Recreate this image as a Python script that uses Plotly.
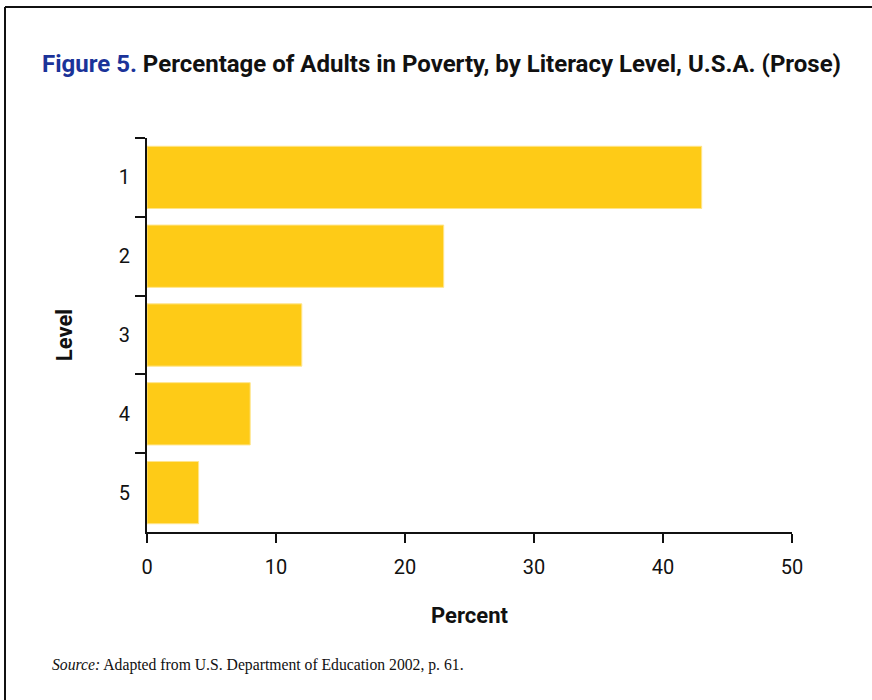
import plotly.graph_objects as go

levels = ["1", "2", "3", "4", "5"]
percent = [43, 23, 12, 8, 4]
x_ticks = [0, 10, 20, 30, 40, 50]

BAR = "#FECB17"
FONT = "Roboto, sans-serif"

fig = go.Figure(go.Bar(
    y=levels, x=percent, orientation="h",
    marker=dict(color=BAR, line=dict(color="#FFE58A", width=1)),
    width=0.79,
))

L, R, T, B = 147, 80, 138, 168
pw, ph = 872 - L - R, 700 - T - B

fig.update_layout(
    width=872, height=700,
    margin=dict(l=L, r=R, t=T, b=B),
    paper_bgcolor="white", plot_bgcolor="white",
    showlegend=False,
    title=dict(
        text="<b><span style='color:#1B3399'>Figure 5.</span> Percentage of Adults in Poverty, by Literacy Level, U.S.A. (Prose)</b>",
        x=42 / 872, xanchor="left", xref="container",
        y=1 - 64 / 700, yanchor="middle", yref="container",
        font=dict(family=FONT, size=24, color="#111111"),
    ),
    xaxis=dict(
        range=[0, 50], tickvals=x_ticks, showgrid=False, zeroline=False,
        showline=True, linecolor="#111111", linewidth=2,
        ticks="outside", ticklen=9, tickwidth=2, tickcolor="#111111",
        tickfont=dict(family=FONT, size=20, color="#111111"),
        ticklabelstandoff=7,
        title=dict(text="<b>Percent</b>", standoff=30,
                   font=dict(family=FONT, size=22, color="#111111")),
    ),
    yaxis=dict(
        categoryorder="array", categoryarray=levels, autorange="reversed",
        showgrid=False, zeroline=False,
        showline=True, linecolor="#111111", linewidth=2,
        ticks="outside", tickson="boundaries", ticklen=10, tickwidth=2, tickcolor="#111111",
        tickfont=dict(family=FONT, size=20, color="#111111"),
        ticklabelstandoff=11,
        title=dict(text="<b>Level</b>", standoff=40,
                   font=dict(family=FONT, size=22, color="#111111")),
    ),
    bargap=0.21,
)

# frame lines (top and left edges)
fig.add_shape(type="line", xref="paper", yref="paper",
              x0=(5 - L) / pw, x1=(872 - L) / pw, y0=(700 - B - 7) / ph, y1=(700 - B - 7) / ph,
              line=dict(color="#111111", width=2))
fig.add_shape(type="line", xref="paper", yref="paper",
              x0=(5 - L) / pw, x1=(5 - L) / pw, y0=(700 - B - 7) / ph, y1=(700 - B - 700) / ph,
              line=dict(color="#111111", width=2))

fig.add_annotation(
    text="<i>Source:</i> Adapted from U.S. Department of Education 2002, p. 61.",
    xref="paper", yref="paper", x=(50 - L) / pw, y=(700 - B - 665) / ph,
    xanchor="left", yanchor="middle", showarrow=False,
    font=dict(family="Liberation Serif, Times New Roman, serif", size=15.7, color="#111111"),
)

fig.write_html("out.html", config={"displayModeBar": False},
               post_script="document.body.style.margin='0';")
